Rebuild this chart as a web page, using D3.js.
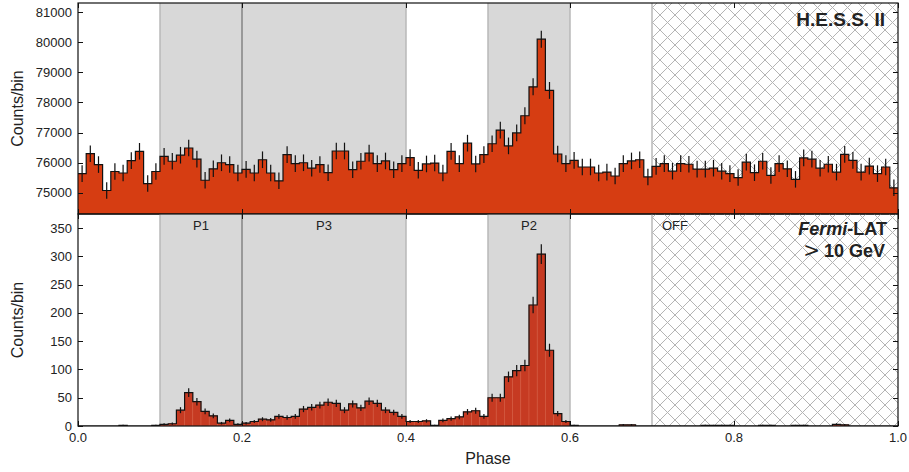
<!DOCTYPE html>
<html>
<head>
<meta charset="utf-8">
<script src="https://cdn.jsdelivr.net/npm/d3@7"></script>
<style>
  body { margin: 0; background: #fff; }
  text { font-family: "Liberation Sans", Arial, Helvetica, sans-serif; fill: #222; }
</style>
</head>
<body>
<svg id="chart" width="909" height="472"></svg>
<script>
// counts per phase bin (100 bins of 0.01)
var hessCounts = [
  75640, 76300, 75940, 75080, 75710, 75660, 76070, 76380, 75310, 75710,
  76210, 76050, 76250, 76490, 76120, 75420, 75800, 76000, 75940, 75660,
  75780, 75660, 76100, 75660, 75400, 76270, 75970, 76000, 75820, 75940,
  75670, 76390, 76390, 75770, 76050, 76320, 75970, 76060, 75770, 75970,
  76170, 75750, 75960, 75990, 75660, 76380, 75970, 76650, 75960, 76270,
  76630, 77080, 76560, 76990, 77560, 78520, 80100, 78400, 76290, 75970,
  76080, 75860, 75860, 75660, 75690, 75560, 75970, 76060, 76100, 75530,
  75880, 75970, 75720, 75970, 75950, 75790, 75790, 75820, 75720, 75640,
  75510, 76020, 75670, 76050, 75580, 75970, 75800, 75450, 76160, 76120,
  75820, 75950, 75690, 76280, 76080, 75690, 75890, 75640, 75860, 75170
];
var fermiCounts = [
  0, 0, 0, 0, 0, 1, 0, 0, 0, 1,
  3, 4, 28, 59, 43, 26, 18, 5, 10, 3,
  5, 8, 12, 11, 17, 15, 17, 30, 33, 37,
  42, 40, 28, 39, 32, 44, 40, 28, 24, 17,
  8, 8, 9, 1, 10, 13, 16, 25, 27, 17,
  50, 50, 87, 98, 107, 214, 304, 134, 22, 8,
  1, 0, 0, 0, 0, 0, 2, 2, 0, 0,
  0, 0, 0, 0, 0, 0, 1, 1, 1, 1,
  0, 0, 0, 1, 1, 0, 0, 1, 1, 0,
  0, 0, 3, 2, 0, 0, 0, 0, 0, 0
];
var phaseTicks = [0, 0.2, 0.4, 0.6, 0.8, 1.0];
var hessTicks = [75000, 76000, 77000, 78000, 79000, 80000, 81000];
var fermiTicks = [0, 50, 100, 150, 200, 250, 300, 350];
var onRegions = [
  {name: 'P1', x0: 0.1, x1: 0.2, at: 0.15},
  {name: 'P3', x0: 0.2, x1: 0.4, at: 0.3},
  {name: 'P2', x0: 0.5, x1: 0.6, at: 0.55}
];
var offRegion = {name: 'OFF', x0: 0.7, x1: 1.0};

var svg = d3.select('#chart');
var left = 78, right = 898;
var nBins = hessCounts.length;

var x = d3.scaleLinear().domain([0, 1]).range([left, right]);

var defs = svg.append('defs');
var hatch = defs.append('pattern')
  .attr('id', 'hatch')
  .attr('patternUnits', 'userSpaceOnUse')
  .attr('width', 15).attr('height', 15);
hatch.append('path')
  .attr('d', 'M0,0L15,15M15,0L0,15M-1,14L1,16M14,-1L16,1')
  .attr('stroke', '#b4b4b4').attr('stroke-width', 1).attr('fill', 'none');

function panel(data, domain, yTicks, top, bottom, fill, bars, tickFmt) {
  var y = d3.scaleLinear().domain(domain).range([bottom, top]);
  var g = svg.append('g');
  var clipId = 'clip' + top;
  defs.append('clipPath').attr('id', clipId)
    .append('rect').attr('x', left).attr('y', top)
    .attr('width', right - left).attr('height', bottom - top);
  var inner = g.append('g').attr('clip-path', 'url(#' + clipId + ')');

  // shaded on-pulse windows
  inner.selectAll('.on').data(onRegions).enter().append('rect')
    .attr('x', function(d) { return x(d.x0); })
    .attr('width', function(d) { return x(d.x1) - x(d.x0); })
    .attr('y', top).attr('height', bottom - top)
    .attr('fill', '#d8d8d8');
  inner.append('rect')
    .attr('x', x(offRegion.x0)).attr('width', x(offRegion.x1) - x(offRegion.x0))
    .attr('y', top).attr('height', bottom - top)
    .attr('fill', 'url(#hatch)');
  [0.1, 0.4, 0.5, 0.6, 0.7].forEach(function(p) {
    inner.append('line').attr('x1', x(p)).attr('x2', x(p))
      .attr('y1', top).attr('y2', bottom)
      .attr('stroke', '#b8b8b8').attr('stroke-width', 1.5);
  });
  inner.append('line').attr('x1', x(0.2)).attr('x2', x(0.2))
    .attr('y1', top).attr('y2', bottom)
    .attr('stroke', '#999').attr('stroke-width', 2);

  var pts = data.map(function(v, i) { return [i / nBins, v]; });
  pts.push([1, data[data.length - 1]]);

  if (bars) {
    inner.selectAll('.bar').data(data).enter().append('rect')
      .attr('x', function(d, i) { return x(i / nBins); })
      .attr('width', x(1 / nBins) - x(0))
      .attr('y', function(d) { return y(d); })
      .attr('height', function(d) { return y(domain[0]) - y(d); })
      .attr('fill', '#c63a22')
      .attr('stroke', '#d65a40').attr('stroke-width', 0.6);
  } else {
    inner.append('path').datum(pts)
      .attr('d', d3.area().curve(d3.curveStepAfter)
        .x(function(d) { return x(d[0]); })
        .y0(bottom)
        .y1(function(d) { return y(d[1]); }))
      .attr('fill', fill);
  }
  inner.append('path').datum(pts)
    .attr('d', d3.line().curve(d3.curveStepAfter)
      .x(function(d) { return x(d[0]); })
      .y(function(d) { return y(d[1]); }))
    .attr('fill', 'none').attr('stroke', '#111').attr('stroke-width', 1.2);

  // poisson error bars
  inner.selectAll('.err').data(data).enter().append('line')
    .attr('x1', function(d, i) { return x((i + 0.5) / nBins); })
    .attr('x2', function(d, i) { return x((i + 0.5) / nBins); })
    .attr('y1', function(d) { return y(d - Math.sqrt(d)); })
    .attr('y2', function(d) { return y(d + Math.sqrt(d)); })
    .attr('stroke', '#111').attr('stroke-width', 1.2);

  // frame + inward ticks
  g.append('rect').attr('x', left).attr('y', top)
    .attr('width', right - left).attr('height', bottom - top)
    .attr('fill', 'none').attr('stroke', '#111').attr('stroke-width', 1.2);
  yTicks.forEach(function(t) {
    var yy = Math.round(y(t)) + 0.5;
    g.append('line').attr('x1', left).attr('x2', left + 5).attr('y1', yy).attr('y2', yy)
      .attr('stroke', '#111');
    g.append('line').attr('x1', right - 5).attr('x2', right).attr('y1', yy).attr('y2', yy)
      .attr('stroke', '#111');
    g.append('text').attr('x', left - 6).attr('y', y(t) + 4.5)
      .attr('text-anchor', 'end').attr('font-size', 13)
      .text(tickFmt(t));
  });
  phaseTicks.forEach(function(t) {
    var xx = Math.round(x(t)) + 0.5;
    g.append('line').attr('x1', xx).attr('x2', xx).attr('y1', bottom).attr('y2', bottom - 5)
      .attr('stroke', '#111');
    g.append('line').attr('x1', xx).attr('x2', xx).attr('y1', top).attr('y2', top + 5)
      .attr('stroke', '#111');
  });
  g.append('text')
    .attr('transform', 'translate(23,' + ((top + bottom) / 2) + ') rotate(-90)')
    .attr('text-anchor', 'middle').attr('font-size', 16)
    .text('Counts/bin');
  return y;
}

panel(hessCounts, [74300, 81300], hessTicks, 3, 214, '#d63d12', false, d3.format('d'));
panel(fermiCounts, [0, 375], fermiTicks, 214, 426, '#c63a22', true, d3.format('d'));

// region labels
svg.selectAll('.rlab').data(onRegions).enter().append('text')
  .attr('x', function(d) { return x(d.at); })
  .attr('y', 230).attr('text-anchor', 'middle').attr('font-size', 13)
  .text(function(d) { return d.name; });
svg.append('text').attr('x', x(offRegion.x0) + 10).attr('y', 230)
  .attr('font-size', 13).text(offRegion.name);

// x axis labels
phaseTicks.forEach(function(t) {
  svg.append('text').attr('x', x(t)).attr('y', 442)
    .attr('text-anchor', 'middle').attr('font-size', 13)
    .text(d3.format('.1f')(t));
});
svg.append('text').attr('x', (left + right) / 2).attr('y', 464)
  .attr('text-anchor', 'middle').attr('font-size', 16).text('Phase');

// instrument labels
svg.append('text').attr('x', 885).attr('y', 26)
  .attr('text-anchor', 'end').attr('font-size', 19).attr('font-weight', 'bold')
  .text('H.E.S.S. II');
var fl = svg.append('text').attr('x', 887).attr('y', 235)
  .attr('text-anchor', 'end').attr('font-size', 18).attr('font-weight', 'bold');
fl.append('tspan').attr('font-style', 'italic').text('Fermi');
fl.append('tspan').text('-LAT');
var gl = svg.append('text').attr('x', 885).attr('y', 257)
  .attr('text-anchor', 'end').attr('font-size', 18);
gl.append('tspan').attr('font-family', 'DejaVu Serif').attr('font-size', 20).text('>');
gl.append('tspan').attr('font-weight', 'bold').attr('dx', 4).text('10 GeV');
</script>
</body>
</html>
